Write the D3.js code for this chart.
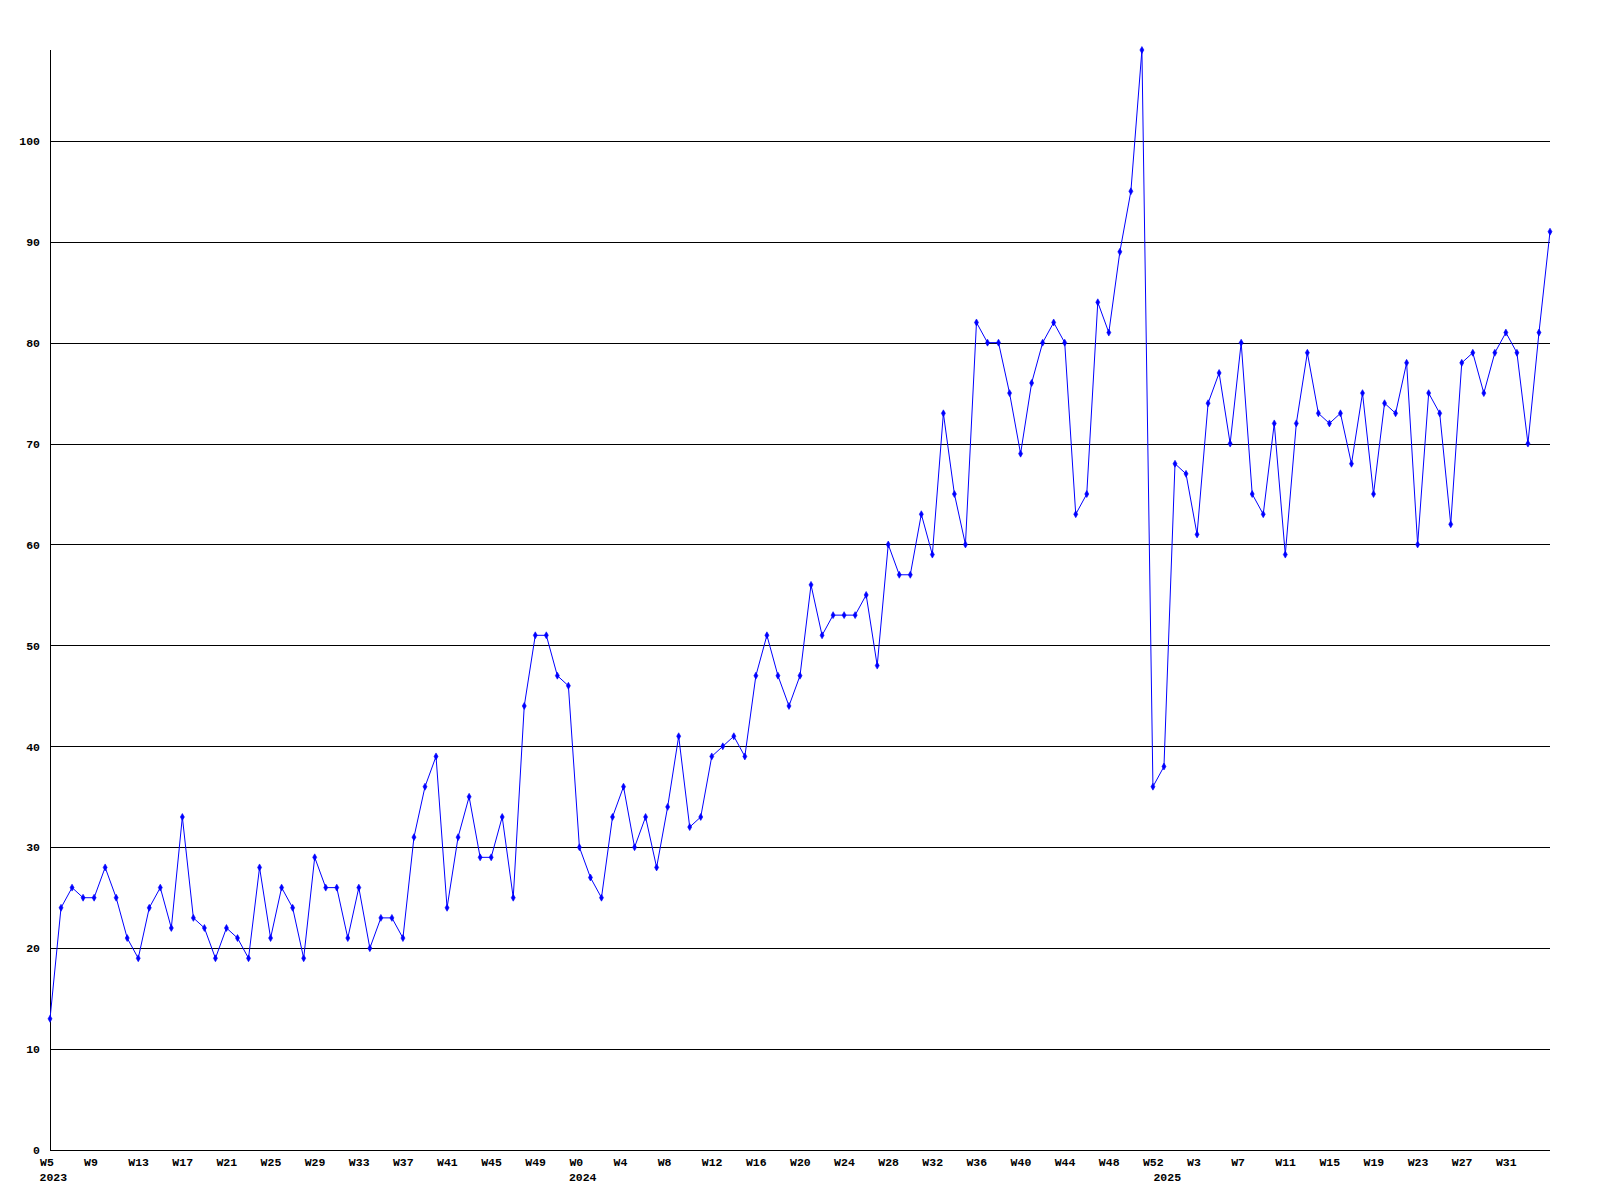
<!DOCTYPE html>
<html>
<head>
<meta charset="utf-8">
<script src="https://cdn.jsdelivr.net/npm/d3@7"></script>
<style>
  html, body { margin: 0; padding: 0; background: #fff; }
  svg text { font-family: "Liberation Mono", "DejaVu Sans Mono", monospace; font-weight: bold; font-size: 11.5px; fill: #000; }
</style>
</head>
<body>
<svg id="chart" width="1600" height="1200"></svg>
<script>
// ---- data ----
const years = [2023, 2024, 2025];
const weeks2023 = d3.range(5, 53);   // W5 .. W52
const weeks2024 = d3.range(0, 53);   // W0 .. W52
const weeks2025 = d3.range(0, 36);   // W0 .. W35
const values = [
  13,24,26,25,25,28,25,21,19,24,26,22,33,23,22,19,22,21,19,28,21,26,24,19,29,
  26,26,21,26,20,23,23,21,31,36,39,24,31,35,29,29,33,25,44,51,51,47,46,30,27,25,
  33,36,30,33,28,34,41,32,33,39,40,41,39,47,51,47,44,47,56,51,53,53,53,55,48,
  60,57,57,63,59,73,65,60,82,80,80,75,69,76,80,82,80,63,65,84,81,89,95,109,
  36,38,68,67,61,74,77,70,80,65,63,72,59,72,
  79,73,72,73,68,75,65,74,73,78,60,75,73,62,78,79,75,79,81,79,70,81,91
];
const yTicks = [0,10,20,30,40,50,60,70,80,90,100];
const labelEvery = 4;

// categories
const categories = [];
[[years[0], weeks2023], [years[1], weeks2024], [years[2], weeks2025]].forEach(([yr, wks]) => {
  wks.forEach((w, k) => categories.push({ key: yr + "-W" + w, year: yr, week: w, first: k === 0 }));
});
const data = categories.map((c, i) => ({ ...c, value: values[i] }));

// ---- layout ----
const mLeft = 50, mRight = 1550, mTop = 50, mBottom = 1150;
const svg = d3.select("#chart");

const x = d3.scalePoint().domain(categories.map(c => c.key)).range([mLeft, mRight]).padding(0);
const y = d3.scaleLinear().domain([0, d3.max(values)]).range([mBottom, mTop]);

// grid + y labels
const yAxis = d3.axisLeft(y).tickValues(yTicks).tickSize(-(mRight - mLeft)).tickPadding(10).tickFormat(d3.format("d"));
const gy = svg.append("g").attr("transform", `translate(${mLeft},0)`).call(yAxis);
gy.select(".domain").remove();
gy.selectAll(".tick line").attr("stroke", "#000").attr("stroke-width", 1).attr("shape-rendering", "crispEdges");
gy.selectAll(".tick text").attr("font-size", null).attr("font-family", null);

// y axis line
svg.append("line").attr("x1", mLeft + 0.5).attr("x2", mLeft + 0.5).attr("y1", mTop).attr("y2", mBottom)
  .attr("stroke", "#000").attr("stroke-width", 1).attr("shape-rendering", "crispEdges");

// x axis (last point has no label)
const tickKeys = categories.filter((c, i) => i % labelEvery === 0 && i < categories.length - 1).map(c => c.key);
const byKey = new Map(categories.map(c => [c.key, c]));
const xAxis = d3.axisBottom(x).tickValues(tickKeys).tickSize(0).tickPadding(0)
  .tickFormat(k => "W" + byKey.get(k).week);
const gx = svg.append("g").attr("transform", `translate(0,${mBottom})`).call(xAxis);
gx.select(".domain").attr("stroke", "#000").attr("d", `M${mLeft},0.5H${mRight}`).attr("shape-rendering", "crispEdges");
gx.selectAll(".tick text").attr("font-size", null).attr("font-family", null)
  .attr("text-anchor", "start").attr("dx", -10.5).attr("dy", null).attr("y", 16);

// year labels
svg.append("g").selectAll("text").data(categories.filter(c => c.first)).join("text")
  .attr("x", c => x(c.key) - 10.5).attr("y", mBottom + 31).attr("text-anchor", "start")
  .text(c => c.year);

// line
const line = d3.line().x(d => x(d.key)).y(d => y(d.value));
svg.append("path").datum(data).attr("d", line).attr("fill", "none").attr("stroke", "#0000ff").attr("stroke-width", 1);

// markers
const sym = d3.symbol().type(d3.symbolDiamond).size(14);
svg.append("g").selectAll("path").data(data).join("path")
  .attr("transform", d => `translate(${x(d.key)},${y(d.value)})`)
  .attr("d", sym).attr("fill", "#0000ff").attr("stroke", "#0000ff").attr("stroke-width", 0.6);
</script>
</body>
</html>
